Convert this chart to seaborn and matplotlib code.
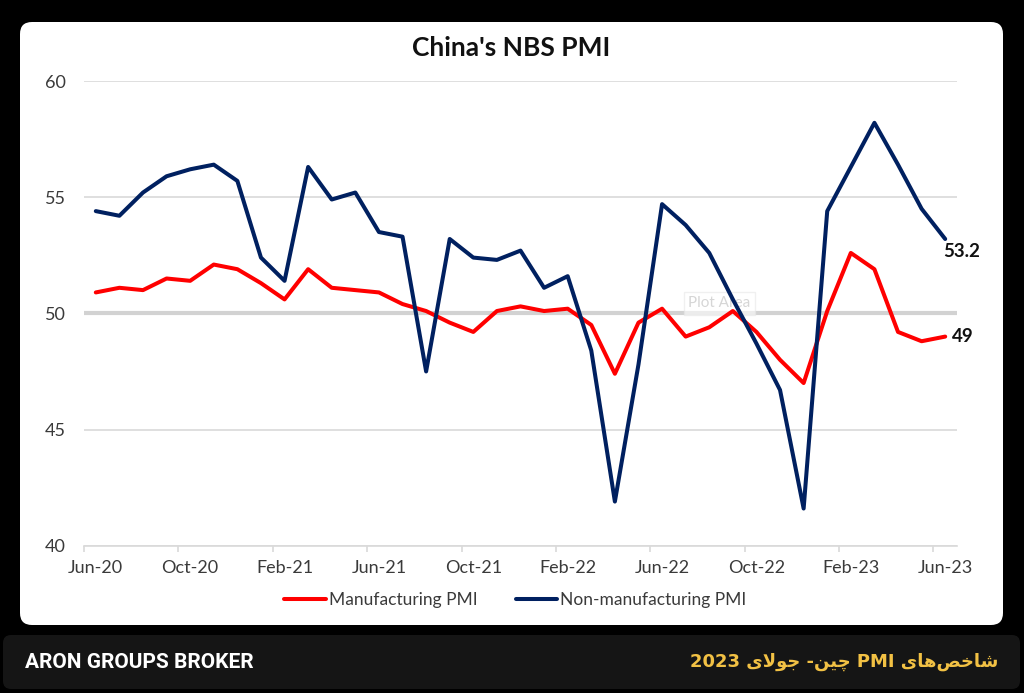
"""
plot.py
China's NBS PMI (manufacturing vs non-manufacturing), Jun-20 .. Jun-23.
"""

import re
import numpy as np
import pandas as pd
import matplotlib
matplotlib.use("Agg")
import matplotlib.pyplot as plt
from matplotlib.patches import FancyBboxPatch
from matplotlib.transforms import IdentityTransform
import seaborn as sns

months = pd.date_range("2020-06-01", "2023-06-01", freq="MS")
manufacturing = [50.9, 51.1, 51.0, 51.5, 51.4, 52.1, 51.9, 51.3, 50.6, 51.9, 51.1, 51.0,
                 50.9, 50.4, 50.1, 49.6, 49.2, 50.1, 50.3, 50.1, 50.2, 49.5, 47.4, 49.6,
                 50.2, 49.0, 49.4, 50.1, 49.2, 48.0, 47.0, 50.1, 52.6, 51.9, 49.2, 48.8, 49.0]
non_manufacturing = [54.4, 54.2, 55.2, 55.9, 56.2, 56.4, 55.7, 52.4, 51.4, 56.3, 54.9, 55.2,
                     53.5, 53.3, 47.5, 53.2, 52.4, 52.3, 52.7, 51.1, 51.6, 48.4, 41.9, 47.8,
                     54.7, 53.8, 52.6, 50.6, 48.7, 46.7, 41.6, 54.4, 56.3, 58.2, 56.4, 54.5, 53.2]
series_names = ["Manufacturing PMI", "Non-manufacturing PMI"]
series_colors = ["#ff0000", "#002060"]
y_ticks = [40, 45, 50, 55, 60]
title = "China's NBS PMI"
brand = "ARON GROUPS BROKER"
caption = "شاخص‌های PMI چین- جولای 2023"

W, H = 1024, 693


# --- tiny Persian shaper (matplotlib has no bidi / contextual shaping) ---
FORMS = {  # isolated, final, initial, medial
    "ا": ("\uFE8D", "\uFE8E", None, None),
    "و": ("\uFEED", "\uFEEE", None, None),
    "ش": ("\uFEB5", "\uFEB6", "\uFEB7", "\uFEB8"),
    "خ": ("\uFEA5", "\uFEA6", "\uFEA7", "\uFEA8"),
    "ص": ("\uFEB9", "\uFEBA", "\uFEBB", "\uFEBC"),
    "ه": ("\uFEE9", "\uFEEA", "\uFEEB", "\uFEEC"),
    "ی": ("\uFBFC", "\uFBFD", "\uFBFE", "\uFBFF"),
    "چ": ("\uFB7A", "\uFB7B", "\uFB7C", "\uFB7D"),
    "ن": ("\uFEE5", "\uFEE6", "\uFEE7", "\uFEE8"),
    "ج": ("\uFE9D", "\uFE9E", "\uFE9F", "\uFEA0"),
    "ل": ("\uFEDD", "\uFEDE", "\uFEDF", "\uFEE0"),
}


def joins_next(ch):
    return ch in FORMS and FORMS[ch][2] is not None


def shape_word(word):
    out = []
    i = 0
    while i < len(word):
        c = word[i]
        prev = word[i - 1] if i > 0 else ""
        nxt = word[i + 1] if i + 1 < len(word) else ""
        pj = joins_next(prev)
        if c == "ل" and nxt == "ا":
            out.append("\uFEFC" if pj else "\uFEFB")
            i += 2
            continue
        if c not in FORMS:
            if c != "\u200c":
                out.append(c)
            i += 1
            continue
        nj = joins_next(c) and nxt in FORMS
        iso, fin, ini, med = FORMS[c]
        if pj and nj:
            out.append(med)
        elif pj:
            out.append(fin)
        elif nj:
            out.append(ini)
        else:
            out.append(iso)
        i += 1
    return "".join(reversed(out))


def rtl_visual(text):
    tokens = re.findall(r"[\u0600-\u06FF\u200c]+|[A-Za-z0-9]+|.", text)
    vis = []
    for t in reversed(tokens):
        vis.append(shape_word(t) if re.match(r"[\u0600-\u06FF]", t) else t)
    return "".join(vis)


df = pd.DataFrame({
    "idx": np.tile(np.arange(len(months)), 2),
    "value": manufacturing + non_manufacturing,
    "series": np.repeat(series_names, len(months)),
})

sns.set_theme(style="white")
plt.rcParams["font.family"] = ["Lato", "DejaVu Sans"]

fig = plt.figure(figsize=(W / 100, H / 100), dpi=100, facecolor="black")

panel = FancyBboxPatch((20, H - 625), 983, 603, boxstyle="round,pad=0,rounding_size=12",
                       transform=IdentityTransform(), facecolor="white", edgecolor="none", zorder=-2)
fig.add_artist(panel)
bar = FancyBboxPatch((3, H - 689), 1017, 54, boxstyle="round,pad=0,rounding_size=8",
                     transform=IdentityTransform(), facecolor="#151515", edgecolor="none", zorder=-2)
fig.add_artist(bar)

ax = fig.add_axes([84 / W, (H - 545.7) / H, 873 / W, 464.7 / H])
ax.set_facecolor("none")

sns.lineplot(data=df, x="idx", y="value", hue="series", palette=series_colors,
             linewidth=2.9, ax=ax, zorder=3)

ax.set_xlim(-0.5, len(months) - 0.5)
ax.set_ylim(y_ticks[0], y_ticks[-1])
ax.set_yticks(y_ticks)
ax.set_xticks(np.arange(0, len(months), 4))
ax.set_xticklabels([m.strftime("%b-%y") for m in months[::4]])
ax.set_xticks(np.arange(-0.5, len(months) - 1, 4), minor=True)
ax.set_xlabel("")
ax.set_ylabel("")

ax.grid(axis="y", color="#d9d9d9", linewidth=1.2, zorder=0)
ax.axhline(50, color="#d2d2d2", linewidth=3.0, zorder=1)
for s in ["left", "right", "top"]:
    ax.spines[s].set_visible(False)
ax.spines["bottom"].set_color("#d9d9d9")
ax.spines["bottom"].set_linewidth(1.2)

ax.tick_params(axis="x", which="major", length=0, pad=10, labelsize=13, labelcolor="#3a3a3a")
ax.tick_params(axis="x", which="minor", length=4, width=1.2, color="#d9d9d9", bottom=True)
ax.tick_params(axis="y", length=0, pad=13, labelsize=13, labelcolor="#3a3a3a")

# end-of-series labels
ax.annotate(f"{non_manufacturing[-1]:g}", (len(months) - 1, non_manufacturing[-1]),
            xytext=(-2, -4), textcoords="offset pixels", ha="left", va="top",
            fontsize=13.5, fontweight="bold", color="#111111")
ax.annotate(f"{manufacturing[-1]:g}", (len(months) - 1, manufacturing[-1]),
            xytext=(7, 0), textcoords="offset pixels", ha="left", va="center",
            fontsize=13.5, fontweight="bold", color="#111111")

# faint leftover "Plot Area" tooltip from the source
ax.text(0.728, 0.522, "Plot Area", transform=ax.transAxes, ha="center", va="center",
        fontsize=11, color="#d6d6d6", zorder=2,
        bbox=dict(boxstyle="square,pad=0.3", facecolor="white", alpha=0.6, edgecolor="#e6e6e6"))

sns.move_legend(ax, "center", bbox_to_anchor=(0.494, -0.117), ncol=2, frameon=False,
                title=None, fontsize=12.5, handlelength=2.4, columnspacing=2.2, handletextpad=0.15)
for t in ax.get_legend().get_texts():
    t.set_color("#3a3a3a")

fig.text(511 / W, 1 - 48 / H, title, ha="center", va="center", fontsize=19,
         fontweight="bold", color="#111111")

fig.text(25 / W, 1 - 663 / H, brand, ha="left", va="center", fontsize=15,
         fontweight="bold", color="white", family=["Roboto", "DejaVu Sans"])
fig.text(998 / W, 1 - 662 / H, rtl_visual(caption), ha="right", va="center", fontsize=13,
         fontweight="bold", color="#f2c144", family=["DejaVu Sans"])

fig.savefig("out.png", dpi=100, facecolor=fig.get_facecolor())
plt.close(fig)
